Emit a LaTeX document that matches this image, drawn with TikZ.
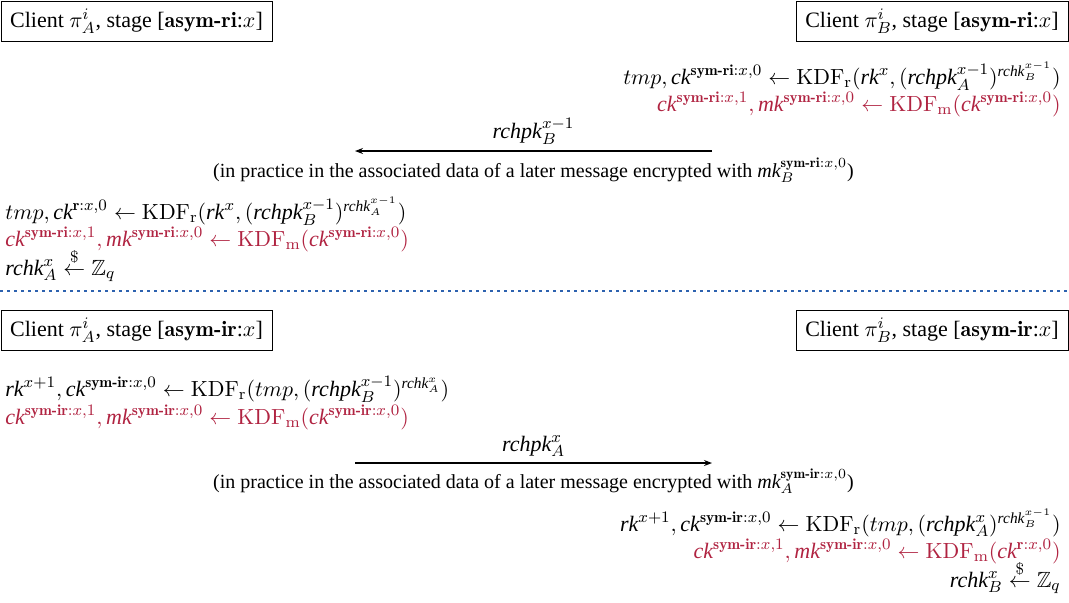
\documentclass[tikz,border=0pt]{standalone}
\usepackage{amsmath,amssymb}
\usepackage[no-math]{fontspec}
\setmainfont{Liberation Serif}
\usetikzlibrary{arrows.meta}

\definecolor{kdfred}{RGB}{176,35,65}
\definecolor{sepblue}{RGB}{45,98,175}

% italic variable names and bold stage labels
\newcommand\vn[1]{\text{\itshape #1}}
\newcommand\lb[1]{\text{\fontfamily{lmr}\bfseries #1}}
\newcommand\kdf[1]{\mathrm{KDF}_{\mathrm{#1}}}
\newcommand\smp{\stackrel{\$}{\leftarrow}}

\tikzset{
  x=0.5pt, y=-0.5pt,
  client/.style={draw, line width=0.5pt, inner xsep=4.6pt, minimum height=20.3pt, font=\fontsize{11}{13.6}\selectfont},
  eq/.style={inner sep=0pt, font=\fontsize{11}{13.6}\selectfont},
  red/.style={eq, text=kdfred},
  msg/.style={-{Stealth[length=4pt,width=3pt]}, line width=0.6pt},
  note/.style={inner sep=0pt, font=\fontsize{10}{12}\selectfont},
  sep/.style={sepblue, line width=1.4pt, dash pattern=on 1.4pt off 2.1pt}
}

\begin{document}
\begin{tikzpicture}
\useasboundingbox (0,0) rectangle (1069,602);

% ---------------- stage asym-ri ----------------
\node[client, anchor=north west] (A1) at (0.5,0.5) {Client $\pi_A^i$, stage [\lb{asym-ri}:$x$]};
\node[client, anchor=north east] (B1) at (1068.5,0.5) {Client $\pi_B^i$, stage [\lb{asym-ri}:$x$]};

\node[eq, anchor=base east] (b1) at (1061,84)
  {$tmp, \vn{ck}^{\lb{sym-ri}:x,0} \leftarrow \kdf{r}(\vn{rk}^{x}, (\vn{rchpk}_A^{x-1})^{\vn{rchk}_B^{x-1}})$};
\node[red, anchor=base east] (b2) at (1061,111)
  {$\vn{ck}^{\lb{sym-ri}:x,1}, \vn{mk}^{\lb{sym-ri}:x,0} \leftarrow \kdf{m}(\vn{ck}^{\lb{sym-ri}:x,0})$};

\coordinate (m1s) at (712,151);
\coordinate (m1e) at (355,151);
\draw[msg] (m1s) -- (m1e);
\node[eq, anchor=base] (m1) at (533.5,138) {$\vn{rchpk}_B^{x-1}$};
\node[note, anchor=base] (n1) at (533.5,177)
  {(in practice in the associated data of a later message encrypted with $\vn{mk}_B^{\lb{sym-ri}:x,0}$)};

\node[eq, anchor=base west] (a1) at (5,219)
  {$tmp, \vn{ck}^{\lb{r}:x,0} \leftarrow \kdf{r}(\vn{rk}^{x}, (\vn{rchpk}_B^{x-1})^{\vn{rchk}_A^{x-1}})$};
\node[red, anchor=base west] (a2) at (5,246)
  {$\vn{ck}^{\lb{sym-ri}:x,1}, \vn{mk}^{\lb{sym-ri}:x,0} \leftarrow \kdf{m}(\vn{ck}^{\lb{sym-ri}:x,0})$};
\node[eq, anchor=base west] (a3) at (5,275)
  {$\vn{rchk}_A^{x} \smp \mathbb{Z}_q$};

% ---------------- separator ----------------
\coordinate (s1) at (0,291);
\coordinate (s2) at (1069,291);
\draw[sep] (s1) -- (s2);

% ---------------- stage asym-ir ----------------
\node[client, anchor=north west] (A2) at (0.5,309.5) {Client $\pi_A^i$, stage [\lb{asym-ir}:$x$]};
\node[client, anchor=north east] (B2) at (1068.5,309.5) {Client $\pi_B^i$, stage [\lb{asym-ir}:$x$]};

\node[eq, anchor=base west] (a4) at (5,396)
  {$\vn{rk}^{x+1}, \vn{ck}^{\lb{sym-ir}:x,0} \leftarrow \kdf{r}(tmp, (\vn{rchpk}_B^{x-1})^{\vn{rchk}_A^{x}})$};
\node[red, anchor=base west] (a5) at (5,424)
  {$\vn{ck}^{\lb{sym-ir}:x,1}, \vn{mk}^{\lb{sym-ir}:x,0} \leftarrow \kdf{m}(\vn{ck}^{\lb{sym-ir}:x,0})$};

\coordinate (m2s) at (355,463);
\coordinate (m2e) at (712,463);
\draw[msg] (m2s) -- (m2e);
\node[eq, anchor=base] (m2) at (533.5,451) {$\vn{rchpk}_A^{x}$};
\node[note, anchor=base] (n2) at (533.5,488)
  {(in practice in the associated data of a later message encrypted with $\vn{mk}_A^{\lb{sym-ir}:x,0}$)};

\node[eq, anchor=base east] (b4) at (1061,531)
  {$\vn{rk}^{x+1}, \vn{ck}^{\lb{sym-ir}:x,0} \leftarrow \kdf{r}(tmp, (\vn{rchpk}_A^{x})^{\vn{rchk}_B^{x-1}})$};
\node[red, anchor=base east] (b5) at (1061,558)
  {$\vn{ck}^{\lb{sym-ir}:x,1}, \vn{mk}^{\lb{sym-ir}:x,0} \leftarrow \kdf{m}(\vn{ck}^{\lb{r}:x,0})$};
\node[eq, anchor=base east] (b6) at (1061,587)
  {$\vn{rchk}_B^{x} \smp \mathbb{Z}_q$};
\end{tikzpicture}
\end{document}
